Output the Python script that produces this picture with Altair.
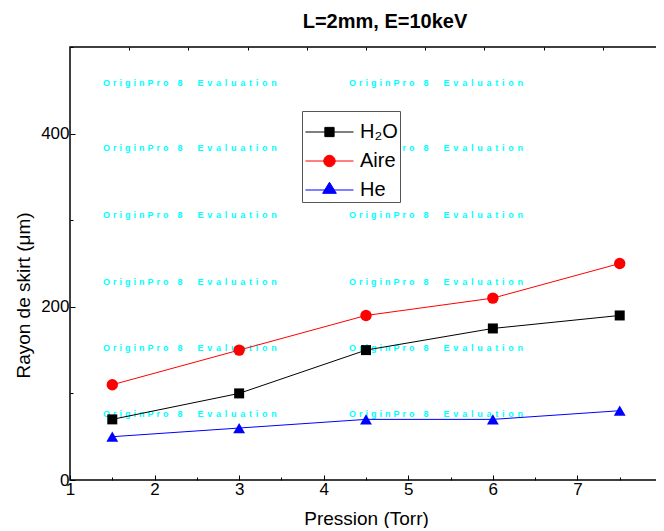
import altair as alt
import pandas as pd

# ---- data ----
pression = [1.5, 3.0, 4.5, 6.0, 7.5]
h2o = [70, 100, 150, 175, 190]
aire = [110, 150, 190, 210, 250]
he = [50, 60, 70, 70, 80]

series_names = ["H₂O", "Aire", "He"]
series_colors = ["#000000", "#ff0000", "#0000ff"]
marker_shapes = ["square", "circle", "triangle-up"]
marker_sizes = [100, 130, 140]

x_major = [1, 2, 3, 4, 5, 6, 7, 8]
x_minor = [1.5, 2.5, 3.5, 4.5, 5.5, 6.5, 7.5]
x_top = [1.7, 2.4, 3.1, 3.8, 4.5, 5.2, 5.9, 6.6, 7.3]
y_major = [0, 200, 400]
y_minor = [100, 300, 500]
y_right = [50, 100, 150, 200, 250, 300, 350, 400, 450]

wm_x = [1.39, 4.3]
wm_y = [459, 383, 306, 229, 152, 76]
SP = "\u2004"
HS = "\u200a"
wm_text = (SP.join("OriginPro") + SP * 3 + "8" + SP * 5 + (SP + HS).join("Evaluation"))

# legend symbols: line with marker (drawn slightly right of the symbol centre)
legend_paths = [
    "M-0.95,0H1.65M0.1,-0.25H0.6V0.25H0.1Z",
    "M-0.95,0H1.65M0.66,0A0.31,0.31,0,1,1,0.04,0A0.31,0.31,0,1,1,0.66,0Z",
    "M-0.95,0H1.65M0.35,-0.42L0.72,0.18L-0.02,0.18Z",
]

rows = []
for name, vals in zip(series_names, [h2o, aire, he]):
    for p, v in zip(pression, vals):
        rows.append({"pression": p, "rayon": v, "serie": name})
df = pd.DataFrame(rows)

wm = pd.DataFrame([{"wx": a, "wy": b, "txt": wm_text} for a in wm_x for b in wm_y])

FONT = "Liberation Sans"
xscale = alt.Scale(domain=[1, 8], nice=False, zero=False)
yscale = alt.Scale(domain=[0, 500], nice=False, zero=False)

common = dict(domain=False, grid=False, tickColor="black", tickWidth=1,
              labelFont=FONT, labelColor="black", titleFont=FONT,
              titleColor="black", titleFontWeight="normal")

ax_bottom = alt.Axis(orient="bottom", values=x_major, tickSize=5, offset=-5,
                     labelFontSize=17, labelPadding=1, labelFlush=False,
                     labelOverlap=False, format="d", title="Pression (Torr)",
                     titleFontSize=19, titlePadding=12, **common)
ax_bottom_minor = alt.Axis(orient="bottom", values=x_minor, tickSize=3, offset=-3,
                           labels=False, title=None, **common)
ax_top = alt.Axis(orient="top", values=x_top, tickSize=3, offset=-3,
                  labels=False, title=None, **common)
ax_left = alt.Axis(orient="left", values=y_major, tickSize=5, offset=-5,
                   labelFontSize=17, labelPadding=1, labelFlush=False,
                   labelOverlap=False, format="d", title="Rayon de skirt (μm)",
                   titleFontSize=19, titlePadding=7, titleY=248, **common)
ax_left_minor = alt.Axis(orient="left", values=y_minor, tickSize=3, offset=-3,
                         labels=False, title=None, **common)
ax_right = alt.Axis(orient="right", values=y_right, tickSize=3, offset=-3,
                    labels=False, title=None, **common)

base = alt.Chart(df)


def line_layer(i, xaxis, yaxis):
    return base.transform_filter(alt.datum.serie == series_names[i]).mark_line(
        color=series_colors[i], strokeWidth=1
    ).encode(
        x=alt.X("pression:Q", scale=xscale, axis=xaxis),
        y=alt.Y("rayon:Q", scale=yscale, axis=yaxis),
    )


def point_layer(i, xaxis, yaxis):
    return base.transform_filter(alt.datum.serie == series_names[i]).mark_point(
        filled=True, opacity=1, shape=marker_shapes[i], size=marker_sizes[i],
        color=series_colors[i]
    ).encode(
        x=alt.X("pression:Q", scale=xscale, axis=xaxis),
        y=alt.Y("rayon:Q", scale=yscale, axis=yaxis),
    )


watermark = alt.Chart(wm).mark_text(
    align="left", baseline="middle", font=FONT, fontSize=9, fontWeight="bold",
    color="#00ffff"
).encode(
    x=alt.X("wx:Q", scale=xscale, axis=None),
    y=alt.Y("wy:Q", scale=yscale, axis=None),
    text="txt:N",
)

leg = alt.Legend(title=None, orient="none", legendX=232, legendY=64,
                 strokeColor="#555555", fillColor="white", padding=2,
                 labelFont=FONT, labelFontSize=20, labelColor="black",
                 symbolSize=1369, symbolStrokeWidth=1, symbolOpacity=1,
                 rowPadding=0, labelOffset=18)

legend_layer = base.transform_filter("false").mark_point(
    filled=True, opacity=1, strokeWidth=1
).encode(
    fill=alt.Fill("serie:N", scale=alt.Scale(domain=series_names, range=series_colors), legend=leg),
    stroke=alt.Stroke("serie:N", scale=alt.Scale(domain=series_names, range=series_colors), legend=leg),
    shape=alt.Shape("serie:N", scale=alt.Scale(domain=series_names, range=legend_paths), legend=leg),
)

chart = alt.layer(
    watermark,
    line_layer(0, ax_bottom, ax_left),
    point_layer(0, ax_bottom_minor, ax_left_minor),
    line_layer(1, ax_top, ax_right),
    point_layer(1, None, None),
    line_layer(2, None, None),
    point_layer(2, None, None),
    legend_layer,
).resolve_axis(
    x="independent", y="independent"
).properties(
    width=592, height=433,
    title=alt.TitleParams("L=2mm, E=10keV", font=FONT, fontSize=20,
                          fontWeight="bold", color="black", anchor="middle",
                          dx=19, offset=15),
    autosize=alt.AutoSizeParams(type="none"),
    padding={"left": 62, "top": 39, "right": -6, "bottom": 48},
).configure_view(
    stroke="black", strokeWidth=1.5
)

chart.save("out.html", embed_options={"renderer": "svg", "actions": False})
